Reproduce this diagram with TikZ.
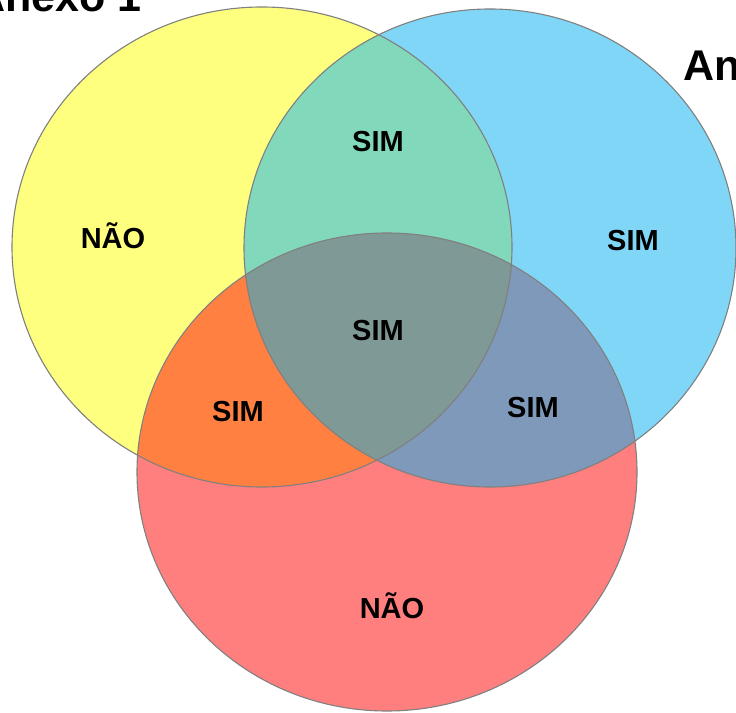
\documentclass[tikz,border=0pt]{standalone}
\usepackage{fontspec}
\setmainfont{Liberation Sans}
\definecolor{cyel}{HTML}{FFFF7F}
\definecolor{cblu}{HTML}{7FD6F7}
\definecolor{cred}{HTML}{FF7F7F}
\definecolor{cgrn}{HTML}{82D8BB}
\definecolor{corg}{HTML}{FF8040}
\definecolor{cbr}{HTML}{7F99BA}
\definecolor{cmid}{HTML}{7F9996}
\definecolor{cedge}{HTML}{808080}
\tikzset{
  lbl/.style={font=\fontsize{29}{34}\selectfont\bfseries, inner sep=0pt},
  ttl/.style={font=\fontsize{43}{50}\selectfont\bfseries, inner sep=0pt, anchor=base west},
  edge/.style={draw=cedge, line width=1.1pt}
}
\def\yelpath{(262pt,465pt) ellipse [x radius=250pt, y radius=240pt]}
\def\blupath{(490pt,464pt) ellipse [x radius=246pt, y radius=239pt]}
\def\redpath{(387pt,240pt) ellipse [x radius=250pt, y radius=239pt]}
\begin{document}
\begin{tikzpicture}[x=1pt,y=1pt]
\useasboundingbox (0,0) rectangle (736,712);
\fill[white] (0,0) rectangle (736,712);
\fill[cyel] \yelpath;
\fill[cblu] \blupath;
\fill[cred] \redpath;
\begin{scope}
  \clip \yelpath;
  \fill[cgrn] \blupath;
  \fill[corg] \redpath;
\end{scope}
\begin{scope}
  \clip \blupath;
  \fill[cbr] \redpath;
\end{scope}
\begin{scope}
  \clip \yelpath;
  \clip \blupath;
  \fill[cmid] \redpath;
\end{scope}
\draw[edge] \yelpath;
\draw[edge] \blupath;
\draw[edge] \redpath;
\node[ttl] (t1) at (-26,700) {Anexo 1};
\node[ttl] (t2) at (683,631) {Anexo 2};
\node[lbl] (a) at (113,476) {NÃO};
\node[lbl] (b) at (378,570) {SIM};
\node[lbl] (c) at (633,471) {SIM};
\node[lbl] (d) at (378,381) {SIM};
\node[lbl] (e) at (238,300) {SIM};
\node[lbl] (f) at (533,304) {SIM};
\node[lbl] (g) at (392,106) {NÃO};
\end{tikzpicture}
\end{document}
